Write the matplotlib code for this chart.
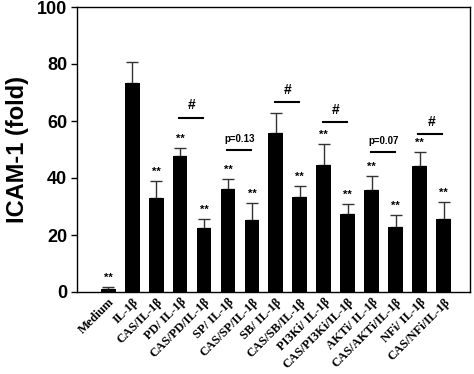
import numpy as np
import matplotlib.pyplot as plt

labels = ['Medium', 'IL-1β', 'CAS/IL-1β', 'PD/ IL-1β', 'CAS/PD/IL-1β',
          'SP/ IL-1β', 'CAS/SP/IL-1β', 'SB/ IL-1β', 'CAS/SB/IL-1β',
          'PI3Ki/ IL-1β', 'CAS/PI3Ki/IL-1β', 'AKTi/ IL-1β', 'CAS/AKTi/IL-1β',
          'NFi/ IL-1β', 'CAS/NFi/IL-1β']
means = [1.2, 73.4, 33.0, 47.7, 22.5, 36.0, 25.4, 55.7, 33.2, 44.7, 27.4, 35.8, 22.7, 44.1, 25.5]
errs = [0.4, 7.2, 6.0, 2.7, 3.0, 3.5, 5.9, 7.2, 4.1, 7.2, 3.6, 4.9, 4.2, 5.1, 6.1]
stars = [True, False, True, True, True, True, True, False, True, True, True, True, True, True, True]

# comparison brackets: (left bar, right bar, line height, text)
brackets = [(3, 4, 61.2, '#'), (5, 6, 50.0, 'p=0.13'), (7, 8, 66.5, '#'),
            (9, 10, 59.5, '#'), (11, 12, 49.2, 'p=0.07'), (13, 14, 55.4, '#')]

fig = plt.figure(figsize=(4.74, 3.74), dpi=100)
ax = fig.add_axes([77 / 474, 1 - 292 / 374, (470 - 77) / 474, (292 - 7) / 374])

x = np.arange(len(labels))
ax.bar(x, means, width=0.62, color='black', zorder=2)
ax.errorbar(x, means, yerr=[np.zeros(len(errs)), errs], fmt='none',
            ecolor='#333333', elinewidth=1, capsize=4, capthick=1, zorder=1)

for i in range(len(labels)):
    if stars[i]:
        ax.text(x[i], means[i] + errs[i] + 1.5, '**', ha='center', va='bottom',
                fontsize=8, fontweight='bold', family='Liberation Sans')

for a, b, h, t in brackets:
    ax.plot([x[a] - 0.05, x[b] - 0.05], [h, h], color='black', lw=1.5)
    if t == '#':
        ax.text((x[a] + x[b]) / 2, h + 1.8, t, ha='center', va='bottom',
                fontsize=10, fontweight='bold', family='Liberation Sans')
    else:
        ax.text((x[a] + x[b]) / 2, h + 2, t, ha='center', va='bottom',
                fontsize=7, fontweight='bold', family='Liberation Sans')

ax.set_xlim(-1.3, 15.1)
ax.set_ylim(0, 100)
ax.set_yticks([0, 20, 40, 60, 80, 100])
ax.set_xticks(x)
ax.set_xticklabels(labels, rotation=45, ha='right', rotation_mode='anchor',
                   fontsize=9, fontweight='bold', family='Liberation Serif')
ax.tick_params(axis='x', length=0, pad=3)
ax.tick_params(axis='y', length=4, width=1, labelsize=13, pad=3)
for lab in ax.get_yticklabels():
    lab.set_fontweight('bold')
    lab.set_family('Liberation Sans')
ax.set_ylabel('ICAM-1 (fold)', fontsize=17, fontweight='bold', family='Liberation Sans', labelpad=6)
for s in ax.spines.values():
    s.set_linewidth(1)

fig.savefig('out.png', dpi=100)
